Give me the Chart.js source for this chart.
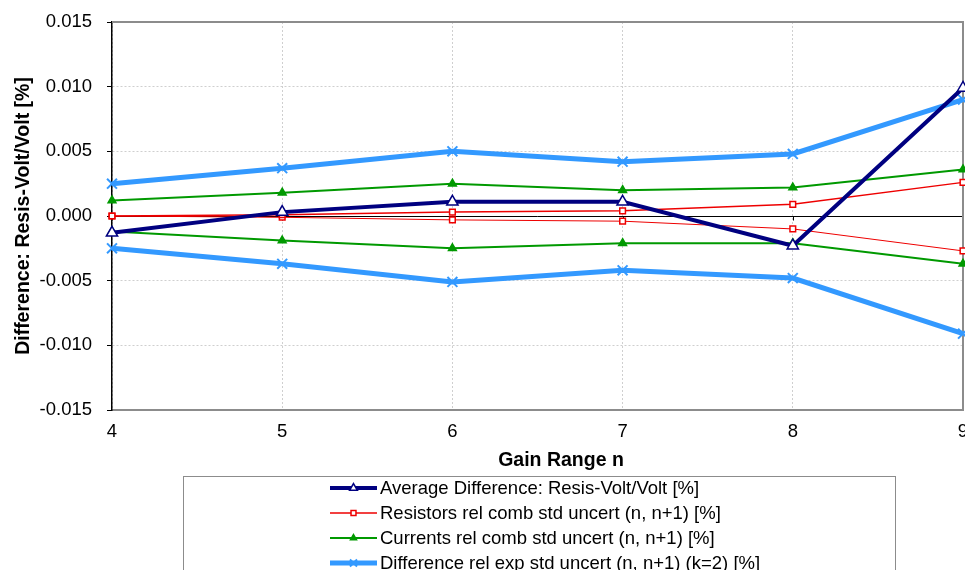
<!DOCTYPE html>
<html>
<head>
<meta charset="utf-8">
<script src="https://cdn.jsdelivr.net/npm/chart.js@4.4.1/dist/chart.umd.min.js"></script>
<style>
  html, body { margin: 0; padding: 0; background: #fff; }
  #wrap { width: 965px; height: 570px; position: relative; overflow: hidden; }
</style>
</head>
<body>
<div id="wrap"><canvas id="gainChart" width="965" height="570"></canvas></div>
<script>
// x axis: gain ranges
const gainRanges = ['4', '5', '6', '7', '8', '9'];
const yTickValues = [-0.015, -0.010, -0.005, 0, 0.005, 0.010, 0.015];

// Average Difference: Resis-Volt/Volt [%]
const avgDifference = [-0.0013, 0.0003, 0.0011, 0.0011, -0.0023, 0.0099];
// Resistors rel comb std uncert (n, n+1) [%], plus and minus
const resistorsUp = [0.0000, 0.0001, 0.0003, 0.0004, 0.0009, 0.0026];
const resistorsDown = [0.0000, -0.0001, -0.0003, -0.0004, -0.0010, -0.0027];
// Currents rel comb std uncert (n, n+1) [%], plus and minus
const currentsUp = [0.0012, 0.0018, 0.0025, 0.0020, 0.0022, 0.0036];
const currentsDown = [-0.0012, -0.0019, -0.0025, -0.0021, -0.0021, -0.0037];
// Difference rel exp std uncert (n, n+1) (k=2) [%], plus and minus
const diffExpUp = [0.0025, 0.0037, 0.0050, 0.0042, 0.0048, 0.0090];
const diffExpDown = [-0.0025, -0.0037, -0.0051, -0.0042, -0.0048, -0.0091];

const FONT = '"Liberation Sans", Arial, sans-serif';
const NAVY = '#000080';
const RED = '#ee0000';
const GREEN = '#009900';
const LIGHTBLUE = '#3399ff';

function series(label, data, color, width, style, radius, fill, inLegend) {
    return {
        label: label,
        data: data,
        borderColor: color,
        borderWidth: width,
        pointStyle: style,
        pointRadius: radius,
        pointBorderColor: color,
        pointBackgroundColor: fill,
        pointBorderWidth: style === 'crossRot' ? 2 : 1.5,
        tension: 0,
        inLegend: inLegend
    };
}

function noPadding(s) {
    s.paddingLeft = 0;
    s.paddingRight = 0;
    s.paddingTop = 0;
    s.paddingBottom = 0;
}

// zero line, frame and the hand-made legend box
const framePlugin = {
    id: 'frame',
    beforeDatasetsDraw(chart) {
        const ctx = chart.ctx;
        const a = chart.chartArea;
        const x = chart.scales.x, y = chart.scales.y;
        const y0 = Math.round(y.getPixelForValue(0)) + 0.5;
        ctx.save();
        ctx.strokeStyle = '#000';
        ctx.lineWidth = 1;
        ctx.beginPath();
        ctx.moveTo(a.left, y0);
        ctx.lineTo(a.right, y0);
        gainRanges.forEach(function(g, i) {
            const px = Math.round(x.getPixelForValue(i)) + 0.5;
            ctx.moveTo(px, y0);
            ctx.lineTo(px, y0 + 4);
        });
        ctx.stroke();
        ctx.strokeStyle = '#8c8c8c';
        ctx.lineWidth = 2;
        ctx.beginPath();
        ctx.moveTo(a.left, a.top);
        ctx.lineTo(a.right, a.top);
        ctx.lineTo(a.right, a.bottom);
        ctx.stroke();
        ctx.restore();
    },
    afterDraw(chart) {
        const ctx = chart.ctx;
        ctx.save();
        // x axis title
        ctx.fillStyle = '#000';
        ctx.font = 'bold 19.5px ' + FONT;
        ctx.textAlign = 'center';
        ctx.textBaseline = 'middle';
        ctx.fillText('Gain Range n', 561, 461);

        // legend box
        ctx.strokeStyle = '#8c8c8c';
        ctx.lineWidth = 1;
        ctx.strokeRect(183.5, 476.5, 712, 120);
        ctx.font = '18.5px ' + FONT;
        ctx.textAlign = 'left';
        chart.data.datasets.filter(function(d) { return d.inLegend; }).forEach(function(d, i) {
            const rowY = 488 + i * 25;
            ctx.strokeStyle = d.borderColor;
            ctx.lineWidth = d.borderWidth;
            ctx.beginPath();
            ctx.moveTo(330, rowY);
            ctx.lineTo(377, rowY);
            ctx.stroke();
            ctx.fillStyle = d.pointBackgroundColor;
            ctx.strokeStyle = d.pointBorderColor;
            ctx.lineWidth = d.pointBorderWidth;
            Chart.helpers.drawPoint(ctx, {
                pointStyle: d.pointStyle,
                radius: Math.max(3.5, d.pointRadius - 2),
                borderWidth: d.pointBorderWidth,
                rotation: 0
            }, 353.5, rowY);
            ctx.fillStyle = '#000';
            ctx.fillText(d.label, 380, rowY + 1);
        });
        ctx.restore();
    }
};

const ctx = document.getElementById('gainChart').getContext('2d');
const chart = new Chart(ctx, {
    type: 'line',
    data: {
        labels: gainRanges,
        datasets: [
            series('Average Difference: Resis-Volt/Volt [%]', avgDifference, NAVY, 4, 'triangle', 6.5, '#fff', true),
            series('Resistors rel comb std uncert (n, n+1) [%]', resistorsUp, RED, 1.5, 'rect', 4, '#fff', true),
            series('Resistors minus', resistorsDown, RED, 1, 'rect', 4, '#fff', false),
            series('Currents rel comb std uncert (n, n+1) [%]', currentsUp, GREEN, 2, 'triangle', 4.5, GREEN, true),
            series('Currents minus', currentsDown, GREEN, 2, 'triangle', 4.5, GREEN, false),
            series('Difference rel exp std uncert (n, n+1) (k=2) [%]', diffExpUp, LIGHTBLUE, 5, 'crossRot', 7, LIGHTBLUE, true),
            series('Difference minus', diffExpDown, LIGHTBLUE, 5, 'crossRot', 7, LIGHTBLUE, false)
        ]
    },
    options: {
        responsive: false,
        animation: false,
        devicePixelRatio: 1,
        layout: { autoPadding: false, padding: { top: 22, right: 2, bottom: 98, left: 0 } },
        plugins: {
            legend: { display: false },
            tooltip: { enabled: false }
        },
        scales: {
            x: {
                type: 'category',
                offset: false,
                afterFit: function(s) { s.height = 62; noPadding(s); },
                ticks: { font: { family: FONT, size: 18.5 }, color: '#000', padding: 11, maxRotation: 0, autoSkip: false },
                grid: { color: '#cfcfcf', drawTicks: false },
                border: { color: '#8c8c8c', width: 2, dash: [2, 2] }
            },
            y: {
                min: -0.015,
                max: 0.015,
                afterBuildTicks: function(s) { s.ticks = yTickValues.map(function(v) { return { value: v }; }); },
                afterFit: function(s) { s.width = 112; noPadding(s); },
                ticks: {
                    callback: function(v) { return (Math.abs(v) < 1e-9 ? 0 : v).toFixed(3); },
                    font: { family: FONT, size: 18.5 },
                    color: '#000',
                    padding: 15
                },
                grid: { color: '#cfcfcf', tickColor: '#000', tickLength: 5 },
                border: { color: '#000', width: 1.5, dash: [2, 2] },
                title: {
                    display: true,
                    text: 'Difference: Resis-Volt/Volt [%]',
                    font: { family: FONT, size: 19.5, weight: 'bold' },
                    color: '#000',
                    padding: { top: 12, bottom: 0 }
                }
            }
        }
    },
    plugins: [framePlugin]
});
</script>
</body>
</html>
